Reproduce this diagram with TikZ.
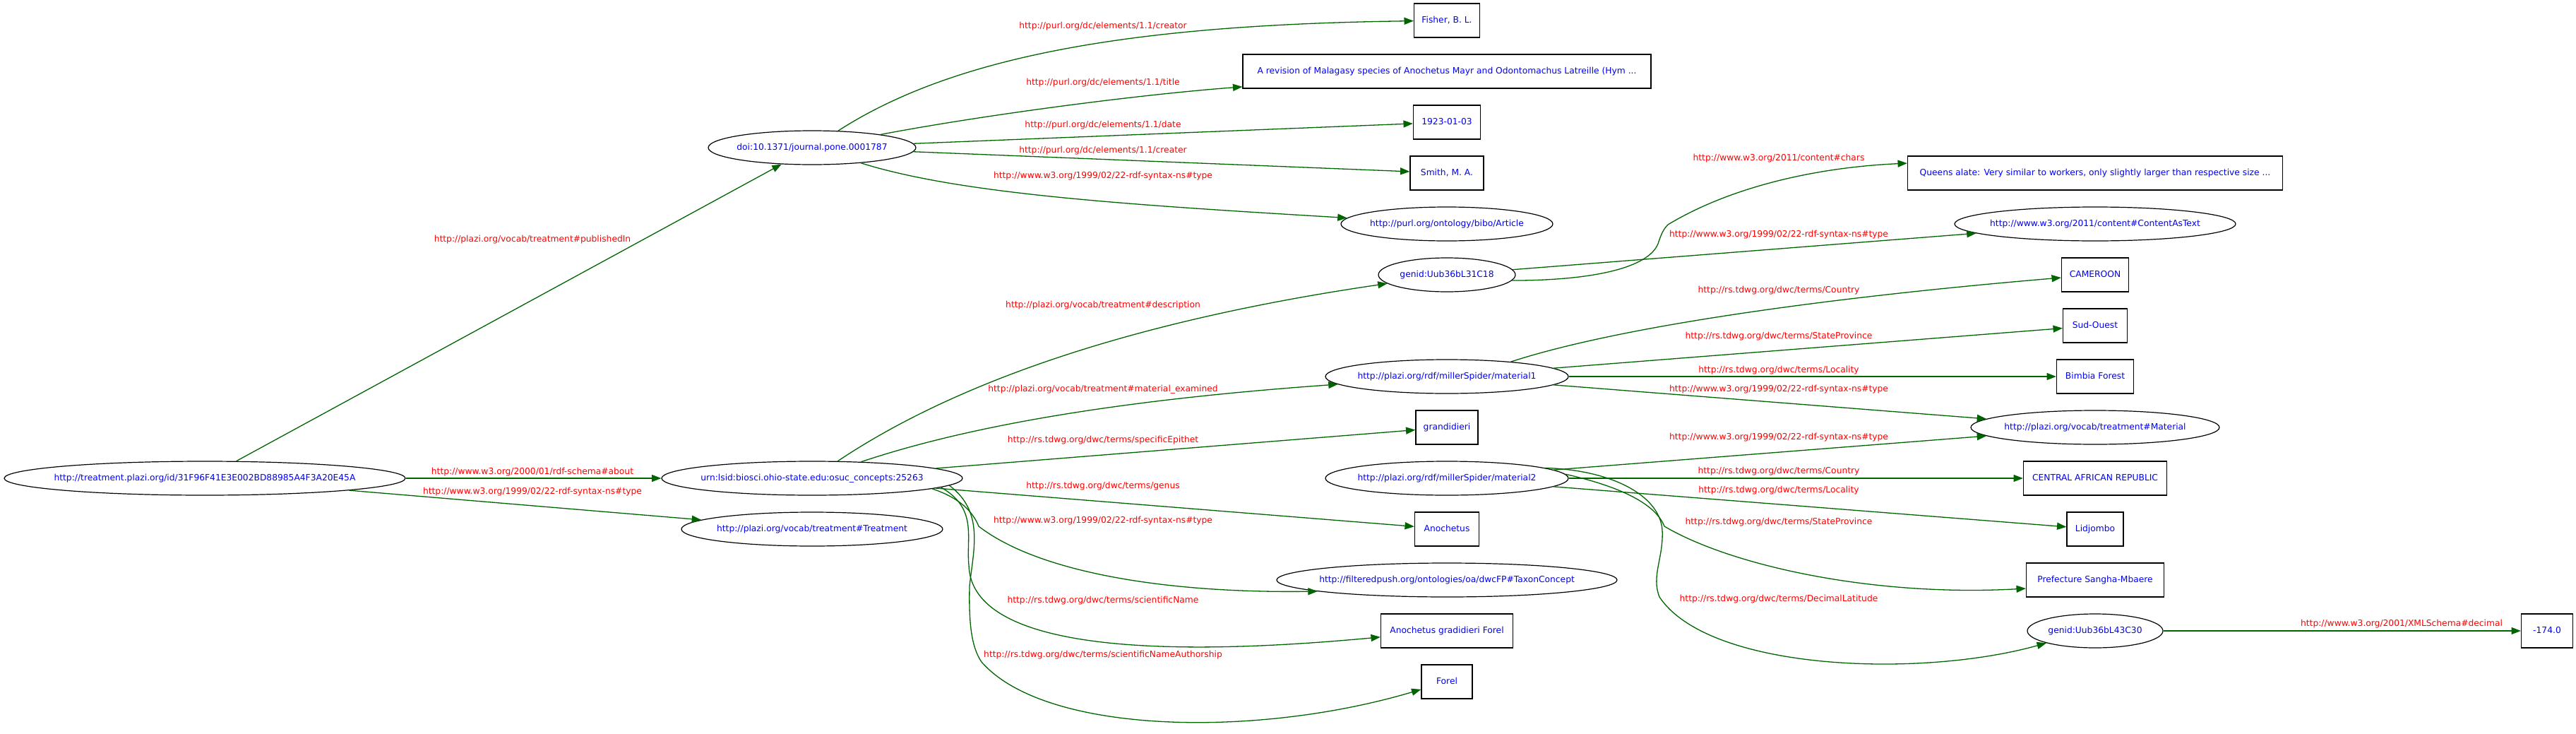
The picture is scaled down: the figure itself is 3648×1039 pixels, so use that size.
\documentclass[tikz,border=0pt]{standalone}
\usepackage{fontspec}
\setmainfont{DejaVu Sans}
\usetikzlibrary{shapes.geometric,arrows.meta}
\definecolor{edgegreen}{HTML}{006400}
\begin{document}
\begin{tikzpicture}[x=0.5pt,y=-0.5pt,
  every node/.style={font=\fontsize{6.14pt}{7pt}\selectfont,text height=4.67pt,text depth=1.45pt},
  wd/.style={minimum width=#1*0.5pt},
  ell/.style={ellipse,draw=black,line width=0.6pt,minimum height=24pt,inner sep=0pt,text=blue},
  box/.style={rectangle,draw=black,line width=0.6pt,minimum height=24pt,inner sep=0pt,text=blue},
  lbl/.style={text=red,inner sep=0pt},
  edge/.style={draw=edgegreen,line width=0.65pt,-{Triangle[length=6.7pt,width=5pt]}}
]
\fill[white] (0,0) rectangle (3648,1039);
\useasboundingbox (0,0) rectangle (3648,1039);

% nodes
\node[ell,wd=568] (T) at (290,677) {\makebox[0pt]{http://treatment.plazi.org/id/31F96F41E3E002BD88985A4F3A20E45A}};
\node[ell,wd=294] (doi) at (1150,209) {\makebox[0pt]{doi:10.1371/journal.pone.0001787}};
\node[ell,wd=426] (urn) at (1150,677) {\makebox[0pt]{urn:lsid:biosci.ohio-state.edu:osuc\_concepts:25263}};
\node[ell,wd=370] (trt) at (1150,749) {\makebox[0pt]{http://plazi.org/vocab/treatment\#Treatment}};

\node[box,wd=93] (fisher) at (2049,29) {\makebox[0pt]{Fisher, B. L.}};
\node[box,wd=578] (title) at (2049,101) {\makebox[0pt]{A revision of Malagasy species of Anochetus Mayr and Odontomachus Latreille (Hym ...}};
\node[box,wd=95] (date) at (2049,173) {\makebox[0pt]{1923-01-03}};
\node[box,wd=104] (smith) at (2049,245) {\makebox[0pt]{Smith, M. A.}};
\node[ell,wd=300] (article) at (2049,317) {\makebox[0pt]{http://purl.org/ontology/bibo/Article}};
\node[ell,wd=194] (gen1) at (2049,389) {\makebox[0pt]{genid:Uub36bL31C18}};
\node[ell,wd=344] (m1) at (2049,533) {\makebox[0pt]{http://plazi.org/rdf/millerSpider/material1}};
\node[box,wd=88] (grand) at (2049,605) {\makebox[0pt]{grandidieri}};
\node[ell,wd=344] (m2) at (2049,677) {\makebox[0pt]{http://plazi.org/rdf/millerSpider/material2}};
\node[box,wd=91] (anoch) at (2049,749) {\makebox[0pt]{Anochetus}};
\node[ell,wd=482] (taxon) at (2049,821) {\makebox[0pt]{http://filteredpush.org/ontologies/oa/dwcFP\#TaxonConcept}};
\node[box,wd=187] (sciname) at (2049,893) {\makebox[0pt]{Anochetus gradidieri Forel}};
\node[box,wd=72] (forel) at (2049,965) {\makebox[0pt]{Forel}};

\node[box,wd=531] (queens) at (2967,245) {\makebox[0pt]{Queens alate: Very similar to workers, only slightly larger than respective size ...}};
\node[ell,wd=398] (cat) at (2967,317) {\makebox[0pt]{http://www.w3.org/2011/content\#ContentAsText}};
\node[box,wd=95] (cameroon) at (2967,389) {\makebox[0pt]{CAMEROON}};
\node[box,wd=91] (sudouest) at (2967,461) {\makebox[0pt]{Sud-Ouest}};
\node[box,wd=109] (bimbia) at (2967,533) {\makebox[0pt]{Bimbia Forest}};
\node[ell,wd=352] (material) at (2967,605) {\makebox[0pt]{http://plazi.org/vocab/treatment\#Material}};
\node[box,wd=203] (car) at (2967,677) {\makebox[0pt]{CENTRAL AFRICAN REPUBLIC}};
\node[box,wd=80] (lidjombo) at (2967,749) {\makebox[0pt]{Lidjombo}};
\node[box,wd=195] (prefecture) at (2967,821) {\makebox[0pt]{Prefecture Sangha-Mbaere}};
\node[ell,wd=192] (gen2) at (2967,893) {\makebox[0pt]{genid:Uub36bL43C30}};
\node[box,wd=73] (dec) at (3607,893) {\makebox[0pt]{-174.0}};

% edges
\draw[edge] (T) -- (doi);
\draw[edge] (T) -- (urn);
\draw[edge] (T) -- (trt);

\draw[edge] (doi) .. controls (1350,80) and (1600,35) .. (fisher);
\draw[edge] (doi) .. controls (1380,165) and (1600,135) .. (title);
\draw[edge] (doi) -- (date);
\draw[edge] (doi) -- (smith);
\draw[edge] (doi) .. controls (1360,275) and (1600,290) .. (article);

\draw[edge] (urn) .. controls (1400,510) and (1700,440) .. (gen1);
\draw[edge] (urn) .. controls (1380,600) and (1600,565) .. (m1);
\draw[edge] (urn) -- (grand);
\draw[edge] (urn) -- (anoch);
\draw[edge] (urn.-5) .. controls (1360,705) and (1378,725) .. (1386,745) .. controls (1470,810) and (1650,840) .. (taxon.185.5);
\draw[edge] (urn.-4) .. controls (1385,720) and (1368,760) .. (1372,800) .. controls (1375,910) and (1600,935) .. (sciname);
\draw[edge] (urn.-3.5) .. controls (1395,725) and (1378,780) .. (1373,830) .. controls (1372,880) and (1375,915) .. (1390,937) .. controls (1480,1040) and (1780,1045) .. (forel);

\draw[edge] (gen1.-5) .. controls (2260,397) and (2335,378) .. (2348,345) .. controls (2352,333) and (2355,325) .. (2362,318) .. controls (2450,265) and (2570,237) .. (queens.177.2);
\draw[edge] (gen1) -- (cat);

\draw[edge] (m1.13.7) .. controls (2300,460) and (2600,420) .. (cameroon);
\draw[edge] (m1) -- (sudouest);
\draw[edge] (m1) -- (bimbia);
\draw[edge] (m1) -- (material);

\draw[edge] (m2) -- (material);
\draw[edge] (m2) -- (car);
\draw[edge] (m2) -- (lidjombo);
\draw[edge] (m2.2) .. controls (2300,690) and (2345,715) .. (2357,745) .. controls (2450,800) and (2650,845) .. (prefecture.187);
\draw[edge] (m2.6.5) .. controls (2280,665) and (2350,700) .. (2354,750) .. controls (2356,790) and (2338,815) .. (2350,845) .. controls (2420,950) and (2720,960) .. (gen2.194.8);

\draw[edge] (gen2) -- (dec);

% edge labels
\node[lbl] (lpub) at (754,339) {http://plazi.org/vocab/treatment\#publishedIn};
\node[lbl] (labout) at (754,668) {http://www.w3.org/2000/01/rdf-schema\#about};
\node[lbl] (ltype1) at (754,696) {http://www.w3.org/1999/02/22-rdf-syntax-ns\#type};

\node[lbl] (lcreator) at (1562,37) {http://purl.org/dc/elements/1.1/creator};
\node[lbl] (ltitle) at (1562,117) {http://purl.org/dc/elements/1.1/title};
\node[lbl] (ldate) at (1562,177) {http://purl.org/dc/elements/1.1/date};
\node[lbl] (lcreater) at (1562,213) {http://purl.org/dc/elements/1.1/creater};
\node[lbl] (ltype2) at (1562,249) {http://www.w3.org/1999/02/22-rdf-syntax-ns\#type};
\node[lbl] (ldesc) at (1562,432) {http://plazi.org/vocab/treatment\#description};
\node[lbl] (lmat) at (1562,551) {http://plazi.org/vocab/treatment\#material\_examined};
\node[lbl] (lepi) at (1562,623) {http://rs.tdwg.org/dwc/terms/specificEpithet};
\node[lbl] (lgenus) at (1562,688) {http://rs.tdwg.org/dwc/terms/genus};
\node[lbl] (ltype3) at (1562,737) {http://www.w3.org/1999/02/22-rdf-syntax-ns\#type};
\node[lbl] (lsci) at (1562,850) {http://rs.tdwg.org/dwc/terms/scientificName};
\node[lbl] (lauth) at (1562,927) {http://rs.tdwg.org/dwc/terms/scientificNameAuthorship};

\node[lbl] (lchars) at (2519,224) {http://www.w3.org/2011/content\#chars};
\node[lbl] (ltype4) at (2519,332) {http://www.w3.org/1999/02/22-rdf-syntax-ns\#type};
\node[lbl] (lcountry1) at (2519,411) {http://rs.tdwg.org/dwc/terms/Country};
\node[lbl] (lstate1) at (2519,476) {http://rs.tdwg.org/dwc/terms/StateProvince};
\node[lbl] (lloc1) at (2519,524) {http://rs.tdwg.org/dwc/terms/Locality};
\node[lbl] (ltype5) at (2519,551) {http://www.w3.org/1999/02/22-rdf-syntax-ns\#type};
\node[lbl] (ltype6) at (2519,619) {http://www.w3.org/1999/02/22-rdf-syntax-ns\#type};
\node[lbl] (lcountry2) at (2519,667) {http://rs.tdwg.org/dwc/terms/Country};
\node[lbl] (lloc2) at (2519,694) {http://rs.tdwg.org/dwc/terms/Locality};
\node[lbl] (lstate2) at (2519,739) {http://rs.tdwg.org/dwc/terms/StateProvince};
\node[lbl] (llat) at (2519,848) {http://rs.tdwg.org/dwc/terms/DecimalLatitude};

\node[lbl] (ldec) at (3401,883) {http://www.w3.org/2001/XMLSchema\#decimal};
\end{tikzpicture}
\end{document}
